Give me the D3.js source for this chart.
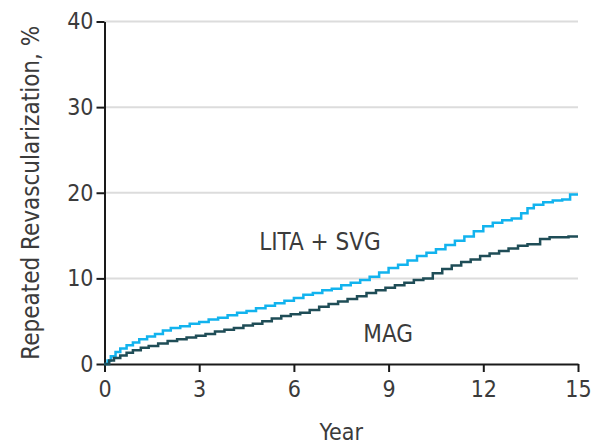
<!DOCTYPE html>
<html>
<head>
<meta charset="utf-8">
<script src="https://cdn.jsdelivr.net/npm/d3@7"></script>
<style>
  body { margin: 0; background: #fff; }
  text { font-family: "Liberation Sans Narrow", "DejaVu Sans Condensed", sans-serif; }
</style>
</head>
<body>
<div id="chart"></div>
<script>
// chart size
const width = 598;
const height = 446;
const margin = { top: 21.5, right: 20, bottom: 82, left: 104.5 };

// data (year, cumulative %)
const litaYears = [0, 0.1, 0.2, 0.35, 0.5, 0.7, 0.9, 1.1, 1.35, 1.6, 1.85, 2.1, 2.4, 2.7, 3.0, 3.3, 3.6, 3.9, 4.2, 4.5, 4.8, 5.1, 5.4, 5.7, 6.0, 6.3, 6.6, 6.9, 7.2, 7.5, 7.8, 8.1, 8.4, 8.7, 9.0, 9.3, 9.6, 9.9, 10.2, 10.5, 10.8, 11.1, 11.4, 11.7, 12.0, 12.3, 12.6, 12.9, 13.2, 13.4, 13.6, 13.9, 14.2, 14.5, 14.75, 15.0];
const litaValues = [0, 0.4, 0.9, 1.4, 1.8, 2.2, 2.5, 2.9, 3.2, 3.5, 3.9, 4.2, 4.4, 4.7, 4.9, 5.2, 5.4, 5.7, 6.0, 6.2, 6.5, 6.8, 7.1, 7.4, 7.7, 8.1, 8.3, 8.6, 8.8, 9.2, 9.5, 9.8, 10.2, 10.7, 11.2, 11.6, 12.1, 12.6, 13.0, 13.4, 13.9, 14.4, 14.9, 15.5, 16.1, 16.5, 16.8, 17.0, 17.6, 18.2, 18.6, 18.9, 19.1, 19.2, 19.8, 19.8];
const magYears = [0, 0.15, 0.3, 0.5, 0.7, 0.9, 1.15, 1.4, 1.7, 2.0, 2.3, 2.6, 2.9, 3.2, 3.5, 3.8, 4.1, 4.4, 4.7, 5.0, 5.3, 5.6, 5.9, 6.2, 6.5, 6.8, 7.1, 7.4, 7.7, 8.0, 8.3, 8.6, 8.9, 9.2, 9.5, 9.8, 10.1, 10.4, 10.7, 11.0, 11.3, 11.6, 11.9, 12.2, 12.5, 12.8, 13.1, 13.4, 13.6, 13.8, 14.1, 14.4, 14.7, 15.0];
const magValues = [0, 0.4, 0.7, 1.0, 1.3, 1.6, 1.9, 2.1, 2.4, 2.7, 2.9, 3.1, 3.3, 3.5, 3.8, 4.0, 4.2, 4.5, 4.7, 5.0, 5.3, 5.6, 5.8, 6.0, 6.3, 6.7, 7.0, 7.3, 7.6, 7.9, 8.3, 8.6, 8.9, 9.2, 9.5, 9.8, 10.0, 10.6, 11.1, 11.5, 11.9, 12.2, 12.6, 12.9, 13.2, 13.5, 13.8, 14.0, 14.0, 14.6, 14.8, 14.8, 14.9, 14.9];

const xTicks = [0, 3, 6, 9, 12, 15];
const yTicks = [0, 10, 20, 30, 40];
const seriesNames = ["LITA + SVG", "MAG"];
const seriesColors = ["#12b3ee", "#1f4d57"];

const svg = d3.select("#chart").append("svg")
  .attr("width", width)
  .attr("height", height);

const x = d3.scaleLinear().domain([0, 15]).range([margin.left, width - margin.right]);
const y = d3.scaleLinear().domain([0, 40]).range([height - margin.bottom, margin.top]);

// gridlines
svg.append("g")
  .selectAll("line")
  .data(yTicks.filter(d => d > 0))
  .enter()
  .append("line")
  .attr("x1", x(0))
  .attr("x2", x(15))
  .attr("y1", d => y(d))
  .attr("y2", d => y(d))
  .attr("stroke", "#dcdcdc")
  .attr("stroke-width", 2);

// axes
const xAxis = svg.append("g")
  .attr("transform", `translate(0,${y(0)})`)
  .call(d3.axisBottom(x).tickValues(xTicks).tickSize(8).tickPadding(9).tickSizeOuter(0));
const yAxis = svg.append("g")
  .attr("transform", `translate(${x(0)},0)`)
  .call(d3.axisLeft(y).tickValues(yTicks).tickSize(8).tickPadding(3).tickSizeOuter(0));

[xAxis, yAxis].forEach(g => {
  g.select(".domain").attr("stroke", "#1a1a1a").attr("stroke-width", 2);
  g.selectAll(".tick line").attr("stroke", "#1a1a1a").attr("stroke-width", 2);
  g.selectAll(".tick text")
    .attr("fill", "#3b3b3b")
    .style("font-size", "23px")
    .style("font-family", '"Liberation Sans Narrow", "DejaVu Sans Condensed", sans-serif');
});

// step curves
const line = d3.line()
  .x(d => x(d[0]))
  .y(d => y(d[1]))
  .curve(d3.curveStepAfter);

const series = [
  d3.zip(litaYears, litaValues),
  d3.zip(magYears, magValues)
];

svg.selectAll(".curve")
  .data(series)
  .enter()
  .append("path")
  .attr("class", "curve")
  .attr("d", line)
  .attr("fill", "none")
  .attr("stroke", (d, i) => seriesColors[i])
  .attr("stroke-width", 2.5);

// series labels
svg.append("text")
  .attr("x", x(4.9))
  .attr("y", y(13.35))
  .attr("fill", "#3b3b3b")
  .style("font-size", "24px")
  .text(seriesNames[0]);

svg.append("text")
  .attr("x", x(8.2))
  .attr("y", y(2.55))
  .attr("fill", "#3b3b3b")
  .style("font-size", "24px")
  .text(seriesNames[1]);

// axis titles
svg.append("text")
  .attr("x", x(7.5))
  .attr("y", height - 6)
  .attr("text-anchor", "middle")
  .attr("fill", "#3b3b3b")
  .style("font-size", "23px")
  .text("Year");

svg.append("text")
  .attr("transform", `translate(39,${y(20)}) rotate(-90)`)
  .attr("text-anchor", "middle")
  .attr("fill", "#3b3b3b")
  .style("font-size", "24px")
  .text("Repeated Revascularization, %");
</script>
</body>
</html>
